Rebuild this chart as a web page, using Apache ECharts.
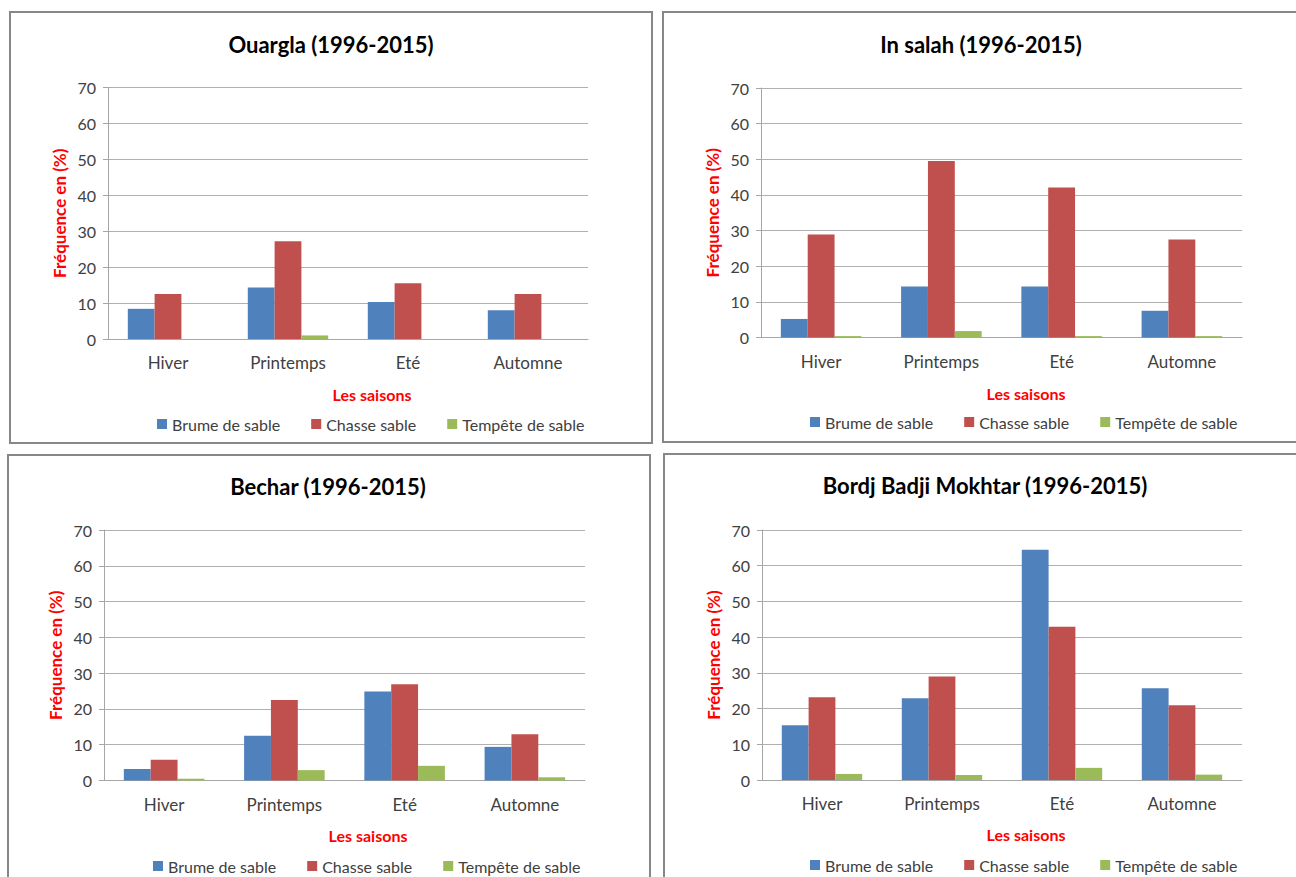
<!DOCTYPE html>
<html>
<head>
<meta charset="utf-8">
<script src="https://cdn.jsdelivr.net/npm/echarts@6/dist/echarts.min.js"></script>
<style>html,body{margin:0;padding:0;background:#fff}#c{width:1296px;height:877px}</style>
</head>
<body>
<div id="c"></div>
<script>
// ---- data ----
const categories = ['Hiver', 'Printemps', 'Eté', 'Automne'];
const seriesNames = ['Brume de sable', 'Chasse sable', 'Tempête de sable'];
const yTicks = [0, 10, 20, 30, 40, 50, 60, 70];

const ouarglaBrume   = [8.4, 14.3, 10.3, 8.0];
const ouarglaChasse  = [12.5, 27.2, 15.5, 12.5];
const ouarglaTempete = [0, 1.0, 0, 0];

const inSalahBrume   = [5.2, 14.3, 14.3, 7.5];
const inSalahChasse  = [28.9, 49.5, 42.1, 27.5];
const inSalahTempete = [0.4, 1.8, 0.4, 0.4];

const becharBrume    = [3.2, 12.5, 24.9, 9.4];
const becharChasse   = [5.8, 22.5, 26.9, 12.9];
const becharTempete  = [0.5, 2.9, 4.1, 0.9];

const bordjBrume     = [15.3, 22.9, 64.5, 25.7];
const bordjChasse    = [23.2, 29.0, 42.9, 20.9];
const bordjTempete   = [1.7, 1.4, 3.4, 1.5];

const titles = ['Ouargla (1996-2015)', 'In salah (1996-2015)', 'Bechar (1996-2015)', 'Bordj Badji Mokhtar (1996-2015)'];
const xAxisName = 'Les saisons';
const yAxisName = 'Fréquence en (%)';

// ---- layout / style ----
const colors = ['#4F81BD', '#C0504D', '#9BBB59'];
const FONT = 'Lato, "Open Sans", sans-serif';
const panels = [
  { data: [ouarglaBrume, ouarglaChasse, ouarglaTempete], box: [10, 12, 642, 431], grid: [108, 87.5, 480, 251.5], titleXY: [331, 44], nameXY: [372, 394], legendXY: [152, 411] },
  { data: [inSalahBrume, inSalahChasse, inSalahTempete], box: [663, 12, 640, 430], grid: [761, 88, 481, 249.5], titleXY: [981, 44], nameXY: [1026, 393], legendXY: [805, 409] },
  { data: [becharBrume, becharChasse, becharTempete], box: [8, 455, 642, 440], grid: [104, 530, 481, 250.5], titleXY: [328, 486], nameXY: [368, 835], legendXY: [148, 853] },
  { data: [bordjBrume, bordjChasse, bordjTempete], box: [664, 454, 640, 440], grid: [762, 530, 480, 250], titleXY: [985, 485], nameXY: [1026, 834], legendXY: [805, 852] }
];

const grid = [], xAxis = [], yAxis = [], series = [], legend = [], graphic = [];
panels.forEach((p, i) => {
  graphic.push({ type: 'rect', shape: { x: p.box[0], y: p.box[1], width: p.box[2], height: p.box[3] },
    style: { fill: 'none', stroke: '#878787', lineWidth: 2 }, z: 1 });
  graphic.push({ type: 'text', x: p.titleXY[0], y: p.titleXY[1],
    style: { text: titles[i], align: 'center', verticalAlign: 'middle', font: 'bold 22px ' + FONT, fill: '#000' } });
  graphic.push({ type: 'text', x: p.nameXY[0], y: p.nameXY[1],
    style: { text: xAxisName, align: 'center', verticalAlign: 'middle', font: 'bold 16px ' + FONT, fill: '#FF0000' } });
  grid.push({ left: p.grid[0], top: p.grid[1], width: p.grid[2], height: p.grid[3], containLabel: false });
  xAxis.push({ type: 'category', gridIndex: i, data: categories,
    axisLine: { lineStyle: { color: '#a6a6a6', width: 1 } }, axisTick: { show: false },
    axisLabel: { color: '#404040', fontSize: 17, fontFamily: FONT, margin: 15 } });
  yAxis.push({ type: 'value', gridIndex: i, min: yTicks[0], max: yTicks[yTicks.length - 1], interval: yTicks[1] - yTicks[0],
    name: yAxisName, nameLocation: 'middle', nameRotate: 90, nameGap: 40,
    nameTextStyle: { color: '#FF0000', fontWeight: 'bold', fontSize: 17, fontFamily: FONT },
    axisLine: { show: true, lineStyle: { color: '#a6a6a6', width: 1 } },
    axisTick: { show: true, length: 5, lineStyle: { color: '#a6a6a6' } },
    splitLine: { lineStyle: { color: '#b0b0b0', width: 1 } },
    axisLabel: { color: '#404040', fontSize: 16, fontFamily: FONT, margin: 12 } });
  seriesNames.forEach((n, k) => {
    series.push({ type: 'bar', name: n, xAxisIndex: i, yAxisIndex: i, data: p.data[k],
      barGap: '0%', barCategoryGap: '33%', itemStyle: { color: colors[k] } });
  });
  legend.push({ data: seriesNames, left: p.legendXY[0], top: p.legendXY[1], orient: 'horizontal',
    icon: 'rect', itemWidth: 10, itemHeight: 10, itemGap: 31,
    textStyle: { color: '#404040', fontSize: 16, fontFamily: FONT } });
});

const chart = echarts.init(document.getElementById('c'), null, { renderer: 'svg' });
chart.setOption({ animation: false, backgroundColor: '#fff', color: colors,
  grid, xAxis, yAxis, series, legend, graphic });
</script>
</body>
</html>
